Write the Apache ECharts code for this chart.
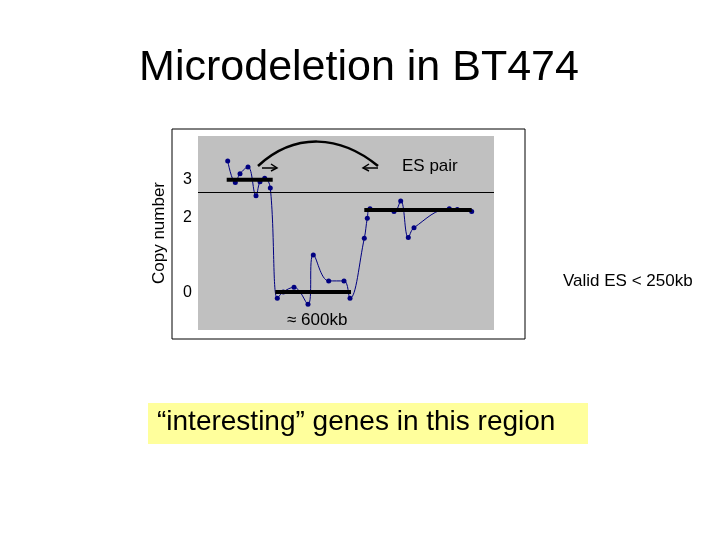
<!DOCTYPE html><html><head><meta charset="utf-8"><script src="https://cdn.jsdelivr.net/npm/echarts@6/dist/echarts.min.js"></script>
<style>html,body{margin:0;background:#fff}#c{width:720px;height:540px}</style></head><body><div id="c"></div><script>
const posX=[29.7,37.3,42,50,58,62,66.7,72.3,79.3,85.3,96,110,115.3,130.7,146,152,166.3,169.3,172,196,202.7,210.3,216,251.3,259.3,273.7];
const copyNum=[3.50,2.93,3.16,3.34,2.58,2.95,3.04,2.78,-0.14,0.03,0.15,-0.30,1.01,0.32,0.32,-0.14,1.45,1.98,2.23,2.16,2.44,1.47,1.73,2.23,2.21,2.16];
const segments=[[[28.7,3.0],[74.7,3.0]],[[77.3,0.03],[153,0.03]],[[166.3,2.2],[273.7,2.2]]];
const yTicks=[0,2,3];
const ch=echarts.init(document.getElementById('c'));
const F='Liberation Sans, Arial, sans-serif';
ch.setOption({
 animation:false,
 grid:{left:198,top:136,width:296,height:194,show:true,backgroundColor:'#c0c0c0',borderWidth:0},
 xAxis:{type:'value',min:0,max:296,show:false},
 yAxis:{type:'value',min:-0.98,max:4.16,splitLine:{show:false},axisLine:{show:false},axisTick:{show:false},
  axisLabel:{customValues:yTicks,fontSize:16,color:'#000',fontFamily:F,margin:6}},
 series:[
  {type:'line',data:posX.map((x,i)=>[x,copyNum[i]]),smooth:0.4,symbol:'circle',symbolSize:5,
   lineStyle:{color:'#000080',width:1},itemStyle:{color:'#000080'},z:3,
   markLine:{silent:true,symbol:'none',label:{show:false},lineStyle:{color:'#000',width:1,type:'solid'},
    data:[{yAxis:2.68}]}},
  ...segments.map(s=>({type:'line',data:s,symbol:'none',lineStyle:{color:'#000',width:4},z:4}))
 ],
 graphic:[
  {type:'rect',shape:{x:172,y:129,width:353,height:210},style:{fill:'none',stroke:'#000',lineWidth:1},z:-10},
  {type:'text',x:359,y:68,style:{text:'Microdeletion in BT474',font:'43px '+F,fill:'#000',align:'center',verticalAlign:'middle'}},
  {type:'text',x:159,y:233,rotation:Math.PI/2,style:{text:'Copy number',font:'17px '+F,fill:'#000',align:'center',verticalAlign:'middle'}},
  {type:'bezierCurve',shape:{x1:258,y1:166,x2:378,y2:166,cpx1:295,cpy1:132,cpx2:340,cpy2:135},style:{stroke:'#000',lineWidth:2.5,fill:'none'},z:10},
  {type:'polyline',shape:{points:[[262,168],[277,168]]},style:{stroke:'#000',lineWidth:1.5},z:10},
  {type:'polyline',shape:{points:[[271,164],[277,168],[271,171]]},style:{stroke:'#000',lineWidth:1.5,fill:'none'},z:10},
  {type:'polyline',shape:{points:[[378,168],[363,168]]},style:{stroke:'#000',lineWidth:1.5},z:10},
  {type:'polyline',shape:{points:[[369,164],[363,168],[369,171]]},style:{stroke:'#000',lineWidth:1.5,fill:'none'},z:10},
  {type:'text',x:402,y:158,style:{text:'ES pair',font:'17px '+F,fill:'#000'},z:10},
  {type:'text',x:287,y:312,style:{text:'≈ 600kb',font:'17px '+F,fill:'#000'},z:10},
  {type:'text',x:563,y:273,style:{text:'Valid ES < 250kb',font:'17px '+F,fill:'#000'}},
  {type:'rect',shape:{x:148,y:403,width:440,height:41},style:{fill:'#ffff9c'}},
  {type:'text',x:157,y:408,style:{text:'“interesting” genes in this region',font:'28px '+F,fill:'#000'},z:10}
 ]
});
</script></body></html>
